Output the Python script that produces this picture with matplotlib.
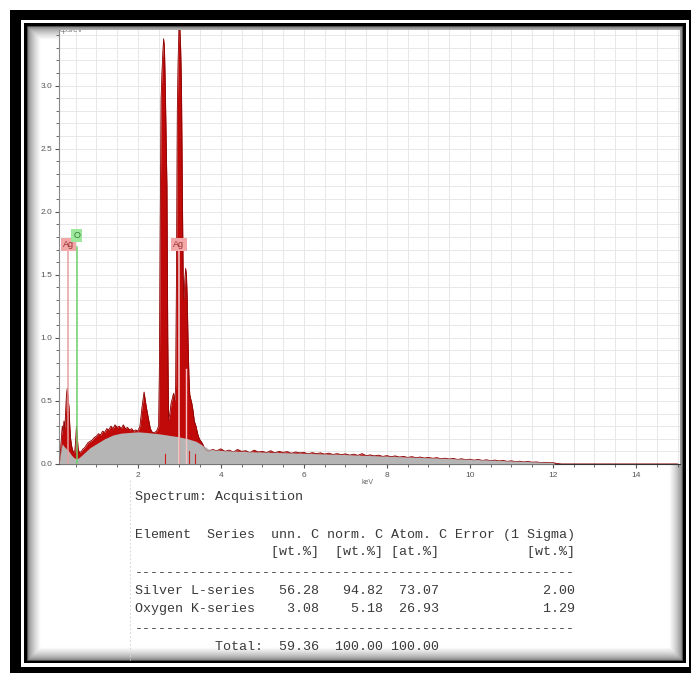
import numpy as np
import matplotlib
matplotlib.use("Agg")
import matplotlib.pyplot as plt
from matplotlib.patches import Rectangle
from matplotlib.ticker import MultipleLocator

# EDS spectrum (keV, cps/eV)
energy = [0.10, 0.12, 0.14, 0.16, 0.18, 0.20, 0.22, 0.24, 0.26, 0.28, 0.30, 0.32, 0.34, 0.36, 0.38,
          0.40, 0.42, 0.44, 0.46, 0.48, 0.50, 0.52, 0.54, 0.56, 0.58, 0.60, 0.64, 0.68, 0.72, 0.76,
          0.80, 0.85, 0.90, 0.95, 1.00, 1.05, 1.10, 1.15, 1.20, 1.25, 1.30, 1.35, 1.40, 1.45, 1.50,
          1.55, 1.60, 1.65, 1.70, 1.75, 1.80, 1.85, 1.90, 1.95, 2.00, 2.05, 2.10, 2.15, 2.18, 2.22,
          2.26, 2.30, 2.35, 2.40, 2.45, 2.50, 2.52, 2.54, 2.56, 2.58, 2.60, 2.62, 2.64, 2.66, 2.68,
          2.70, 2.72, 2.74, 2.77, 2.80, 2.83, 2.86, 2.89, 2.91, 2.93, 2.95, 2.97, 2.99, 3.01, 3.03,
          3.05, 3.07, 3.09, 3.11, 3.13, 3.15, 3.17, 3.19, 3.21, 3.23, 3.25, 3.27, 3.30, 3.33, 3.36,
          3.40, 3.44, 3.48, 3.52, 3.56, 3.60, 3.65, 3.70, 3.80, 3.90, 4.00, 4.10, 4.20, 4.30, 4.40,
          4.50, 4.60, 4.70, 4.80, 4.90, 5.00, 5.10, 5.20, 5.30, 5.40, 5.50, 5.60, 5.70, 5.80, 5.90,
          6.00, 6.10, 6.20, 6.30, 6.40, 6.50, 6.60, 6.70, 6.80, 6.90, 7.00, 7.10, 7.20, 7.30, 7.40,
          7.50, 7.60, 7.70, 7.80, 7.90, 8.00, 8.10, 8.20, 8.30, 8.40, 8.50, 8.60, 8.70, 8.80, 8.90,
          9.00, 9.10, 9.20, 9.30, 9.40, 9.50, 9.60, 9.70, 9.80, 9.90, 10.00, 10.10, 10.20, 10.30,
          10.40, 10.50, 10.60, 10.70, 10.80, 10.90, 11.00, 11.10, 11.20, 11.30, 11.40, 11.50, 11.60,
          11.70, 11.80, 11.90, 12.00, 12.10, 12.20, 15.00]
counts = [0.00, 0.05, 0.12, 0.22, 0.30, 0.26, 0.34, 0.28, 0.42, 0.55, 0.60, 0.52, 0.45, 0.30, 0.20,
          0.15, 0.12, 0.10, 0.09, 0.10, 0.18, 0.30, 0.22, 0.12, 0.10, 0.09, 0.10, 0.12, 0.13, 0.15,
          0.17, 0.18, 0.19, 0.21, 0.22, 0.24, 0.23, 0.26, 0.25, 0.28, 0.27, 0.30, 0.28, 0.31, 0.29,
          0.30, 0.28, 0.31, 0.28, 0.29, 0.27, 0.28, 0.26, 0.27, 0.26, 0.30, 0.45, 0.57, 0.50, 0.42,
          0.35, 0.28, 0.25, 0.25, 0.26, 0.30, 0.80, 2.00, 2.90, 3.10, 3.25, 3.37, 3.30, 3.00, 2.60,
          2.20, 1.00, 0.35, 0.40, 0.48, 0.52, 0.56, 0.50, 0.62, 1.50, 2.80, 3.20, 3.46, 3.46, 3.30,
          3.00, 2.20, 1.50, 1.30, 1.45, 1.55, 1.50, 1.30, 0.95, 0.70, 0.55, 0.52, 0.48, 0.42, 0.34,
          0.30, 0.24, 0.20, 0.18, 0.16, 0.13, 0.11, 0.10, 0.115, 0.105, 0.12, 0.10, 0.11, 0.095, 0.115,
          0.10, 0.105, 0.09, 0.11, 0.095, 0.10, 0.09, 0.105, 0.088, 0.10, 0.092, 0.098, 0.085, 0.095, 0.088,
          0.092, 0.08, 0.09, 0.082, 0.088, 0.078, 0.086, 0.075, 0.082, 0.074, 0.08, 0.07, 0.078, 0.068, 0.082,
          0.066, 0.072, 0.064, 0.07, 0.06, 0.066, 0.058, 0.064, 0.055, 0.06, 0.052, 0.058, 0.05, 0.055, 0.047,
          0.052, 0.045, 0.05, 0.042, 0.046, 0.039, 0.044, 0.036, 0.041, 0.034, 0.038, 0.03, 0.036, 0.028,
          0.033, 0.026, 0.031, 0.024, 0.028, 0.021, 0.025, 0.018, 0.022, 0.016, 0.02, 0.014, 0.016,
          0.012, 0.013, 0.01, 0.01, 0.004, 0.0, 0.0]

# fitted background (grey area)
bg_energy = [0.10, 0.12, 0.15, 0.18, 0.22, 0.28, 0.34, 0.40, 0.46, 0.52, 0.58, 0.65, 0.75, 0.85,
             1.0, 1.2, 1.4, 1.6, 1.8, 2.0, 2.2, 2.5, 2.8, 3.0, 3.2, 3.4, 3.55, 3.7, 3.9, 4.5, 5.0,
             6.0, 7.0, 8.0, 9.0, 10.0, 11.0, 12.0, 12.05, 15.0]
bg_counts = [0.0, 0.04, 0.12, 0.16, 0.14, 0.12, 0.10, 0.07, 0.05, 0.04, 0.05, 0.07, 0.10, 0.13,
             0.16, 0.20, 0.23, 0.245, 0.25, 0.255, 0.25, 0.24, 0.225, 0.215, 0.20, 0.18, 0.15, 0.12, 0.11,
             0.10, 0.095, 0.085, 0.075, 0.062, 0.05, 0.038, 0.025, 0.012, 0.0, 0.0]

# element markers
marker_names = ["Ag", "O", "Ag"]
marker_keV = [0.32, 0.53, 2.99]
marker_top = [1.72, 1.72, 1.72]

# small line markers inside the background
tick_keV = [2.65, 3.00, 3.23, 3.37]
tick_h = [0.08, 0.25, 0.10, 0.08]

yticks = [0.0, 0.5, 1.0, 1.5, 2.0, 2.5, 3.0]
xticks = [2, 4, 6, 8, 10, 12, 14]

table_lines = [
    "Spectrum: Acquisition",
    "Element  Series  unn. C norm. C Atom. C Error (1 Sigma)",
    "                 [wt.%]  [wt.%] [at.%]           [wt.%]",
    "-------------------------------------------------------",
    "Silver L-series   56.28   94.82  73.07             2.00",
    "Oxygen K-series    3.08    5.18  26.93             1.29",
    "-------------------------------------------------------",
    "          Total:  59.36  100.00 100.00",
]
table_y = [497, 535, 552, 573, 591, 609, 629, 647]

W, H = 691, 673
fig = plt.figure(figsize=(W / 100, H / 100), dpi=100)


def box(x0, y0, x1, y1, **kw):
    # pixel box (y from top) -> figure fraction rectangle
    r = Rectangle((x0 / W, 1 - y1 / H), (x1 - x0) / W, (y1 - y0) / H,
                  transform=fig.transFigure, zorder=-10, **kw)
    fig.patches.append(r)


# picture frame
box(10, 10, 691, 673, facecolor="black", edgecolor="none")
box(21, 20, 689, 667, facecolor="white", edgecolor="none")
box(24, 23, 686, 663, facecolor="black", edgecolor="none")
box(28, 27, 682, 660, facecolor="white", edgecolor="none")
for i in range(14):
    g = 0.42 + 0.58 * (i / 13) ** 0.6
    box(28 + i, 27 + i, 682 - i, 660 - i, facecolor="none",
        edgecolor=(g, g, g), linewidth=1.1)

ax = fig.add_axes([59 / W, 1 - 464 / H, (680 - 59) / W, (464 - 30) / H])
ax.set_xlim(0.1, 15.06)
ax.set_ylim(0, 3.44)

ax.fill_between(energy, counts, color="#c00a0a", linewidth=0, zorder=2)
ax.plot(energy, counts, color="#8a0000", linewidth=0.6, zorder=2)
ax.fill_between(bg_energy, bg_counts, color="#b5b5b5", linewidth=0, zorder=3)
ax.plot(energy, counts, color="#a01010", linewidth=0.4, alpha=0.5, zorder=4)

for e, h in zip(tick_keV, tick_h):
    ax.plot([e, e], [0, h], color="#cc2020", linewidth=0.8, zorder=4)
ax.plot([3.17, 3.17], [0, 0.75], color="#f6c4c4", linewidth=1.0, zorder=5)

for name, e, top in zip(marker_names, marker_keV, marker_top):
    if name == "O":
        lc, fc, tc, ly = "#6fd06f", "#9ee89e", "#2f7f2f", top + 0.09
    else:
        lc, fc, tc, ly = "#e8a0a0", "#f2a8a8", "#9a3030", top + 0.02
    if e > 1:
        lc = "#f8d0d0"
    ax.plot([e, e], [0, top], color=lc, linewidth=1.1, zorder=5)
    ax.text(e, ly, name, fontsize=6.5, color=tc, ha="center", va="center",
            family="Liberation Sans", zorder=6,
            bbox=dict(boxstyle="square,pad=0.22", facecolor=fc, edgecolor="none"))

ax.set_xticks(xticks)
ax.set_yticks(yticks)
ax.xaxis.set_minor_locator(MultipleLocator(0.5))
ax.yaxis.set_minor_locator(MultipleLocator(0.1))
ax.set_xticklabels([str(t) for t in xticks])
ax.set_yticklabels(["%.1f" % t for t in yticks])
ax.tick_params(axis="both", which="both", labelsize=6, labelcolor="#555555", color="#555555")
ax.tick_params(axis="x", which="major", length=3, pad=3)
ax.tick_params(axis="x", which="minor", length=2)
ax.tick_params(axis="y", which="major", length=3, pad=2)
ax.tick_params(axis="y", which="minor", length=2)
for lab in ax.get_xticklabels() + ax.get_yticklabels():
    lab.set_family("Liberation Sans")
ax.grid(True, which="both", color="#e8e8e8", linewidth=0.7, zorder=0)
ax.set_axisbelow(True)
ax.spines["top"].set_visible(False)
ax.spines["right"].set_color("#999999")
ax.spines["left"].set_color("#888888")
ax.spines["bottom"].set_color("#333333")

ax.text(0.12, 3.44, "cps/eV", fontsize=5.5, color="#777777", va="center",
        family="Liberation Sans", clip_on=True)
fig.text(368 / W, 1 - 483 / H, "keV", fontsize=5, color="#666666",
         ha="center", va="center", family="Liberation Sans")

# result table
fig.lines.append(plt.Line2D([130 / W, 130 / W], [1 - 480 / H, 1 - 660 / H],
                            transform=fig.transFigure, color="#d8d8d8",
                            linewidth=0.7, linestyle=(0, (2, 2))))
for line, y in zip(table_lines, table_y):
    fig.text(135 / W, 1 - y / H, line, family="Liberation Mono", fontsize=9.6,
             color="#3a3a3a", ha="left", va="center")

fig.savefig("out.png", dpi=100)
